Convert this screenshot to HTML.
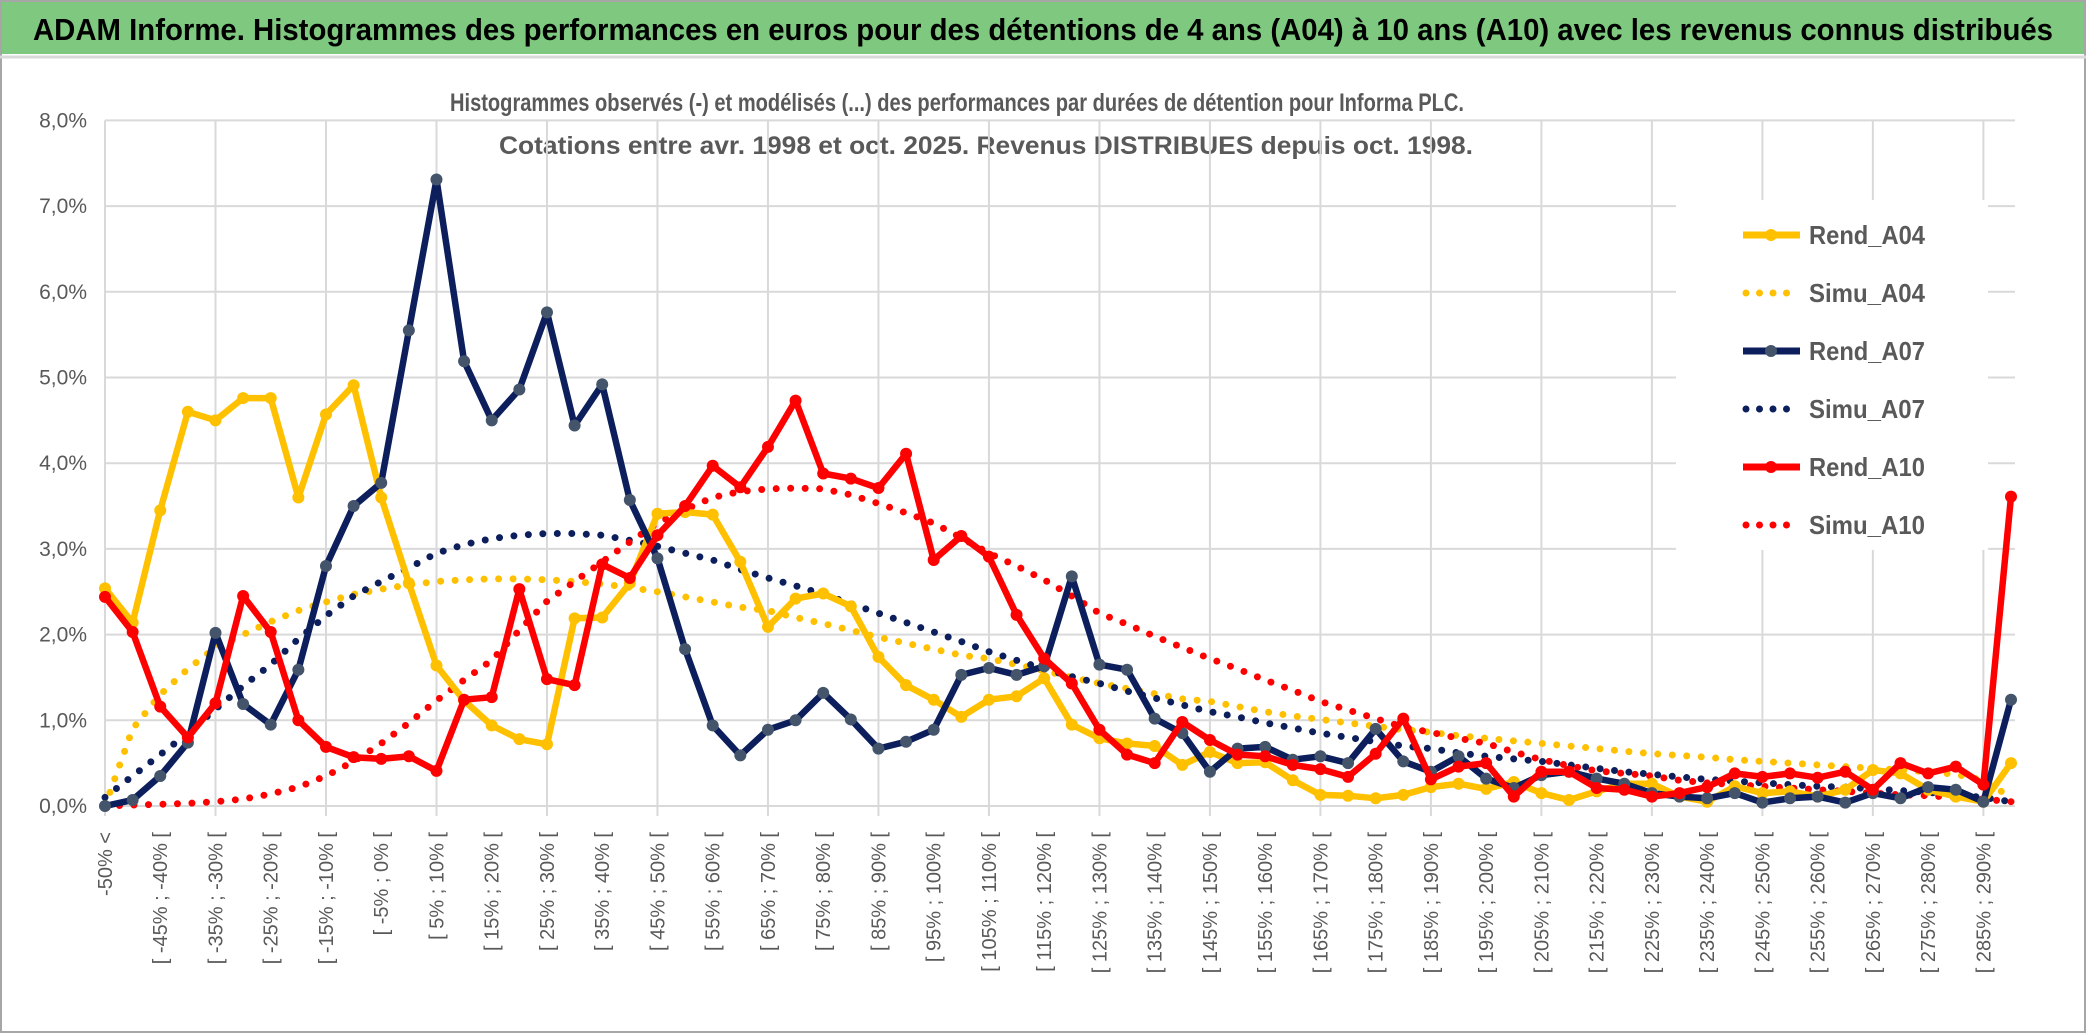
<!DOCTYPE html>
<html><head><meta charset="utf-8">
<style>
html,body{margin:0;padding:0;background:#fff;}
svg{display:block;font-family:"Liberation Sans",sans-serif;}
</style></head>
<body>
<svg id="chart" width="2086" height="1033" viewBox="0 0 2086 1033" xmlns="http://www.w3.org/2000/svg">
<rect x="0" y="0" width="2086" height="1033" fill="#fff"/>
<rect x="1" y="1" width="2084" height="1031" fill="none" stroke="#a6a6a6" stroke-width="2"/>
<rect x="2" y="2" width="2082" height="52" fill="#7ec87f"/>
<line x1="0" y1="57" x2="2086" y2="57" stroke="#d9d9d9" stroke-width="3"/>
<text x="33" y="40" font-size="31" font-weight="bold" fill="#000" textLength="2020" lengthAdjust="spacingAndGlyphs">ADAM Informe. Histogrammes des performances en euros pour des détentions de 4 ans (A04) à 10 ans (A10) avec les revenus connus distribués</text>
<text x="450" y="111" font-size="25" font-weight="bold" fill="#595959" textLength="1014" lengthAdjust="spacingAndGlyphs">Histogrammes observés (-) et modélisés (...) des performances par durées de détention pour Informa PLC.</text>
<text x="499" y="154" font-size="25" font-weight="bold" fill="#595959" textLength="974" lengthAdjust="spacingAndGlyphs">Cotations entre avr. 1998 et oct. 2025. Revenus DISTRIBUES depuis oct. 1998.</text>
<g id="grid"></g>
<g id="ylabels"></g>
<g id="xlabels"></g>
<g id="series"></g>
<g id="legend"></g>
</svg>
<script>
const yTicks = ["0,0%","1,0%","2,0%","3,0%","4,0%","5,0%","6,0%","7,0%","8,0%"];
const categories = ["-50% <"];
for (let k = 1; k < 70; k++) { const a = -55 + 5 * k; categories.push("[ " + a + "% ; " + (a + 5) + "% ["); }
const rendA04 = [2.54,2.14,3.45,4.6,4.5,4.76,4.76,3.6,4.57,4.91,3.6,2.6,1.64,1.23,0.94,0.78,0.72,2.19,2.2,2.6,3.41,3.43,3.4,2.85,2.09,2.42,2.48,2.33,1.74,1.41,1.24,1.04,1.24,1.28,1.49,0.95,0.79,0.73,0.7,0.48,0.63,0.5,0.51,0.3,0.13,0.12,0.09,0.13,0.22,0.26,0.2,0.28,0.15,0.07,0.17,0.26,0.26,0.11,0.05,0.23,0.15,0.17,0.11,0.19,0.42,0.38,0.19,0.11,0.05,0.5];
const rendA07 = [0,0.07,0.35,0.74,2.02,1.19,0.95,1.59,2.8,3.5,3.77,5.55,7.31,5.19,4.5,4.86,5.76,4.44,4.92,3.57,2.89,1.83,0.94,0.59,0.89,1.0,1.32,1.01,0.67,0.75,0.89,1.53,1.61,1.53,1.63,2.68,1.65,1.59,1.02,0.85,0.4,0.67,0.69,0.54,0.58,0.5,0.9,0.52,0.4,0.58,0.32,0.21,0.36,0.4,0.32,0.26,0.15,0.11,0.09,0.15,0.04,0.09,0.11,0.04,0.15,0.09,0.22,0.19,0.05,1.24];
const rendA10 = [2.44,2.03,1.16,0.8,1.2,2.45,2.03,1.0,0.69,0.57,0.55,0.58,0.41,1.24,1.27,2.53,1.48,1.41,2.82,2.66,3.16,3.5,3.97,3.72,4.19,4.73,3.88,3.82,3.71,4.11,2.87,3.15,2.91,2.23,1.72,1.43,0.89,0.6,0.5,0.98,0.77,0.6,0.58,0.48,0.43,0.34,0.61,1.02,0.31,0.46,0.5,0.11,0.4,0.4,0.21,0.19,0.11,0.15,0.22,0.38,0.34,0.38,0.33,0.4,0.19,0.5,0.38,0.46,0.25,3.61];
const simuA04 = [0,0.9,1.3,1.6,1.85,2.0,2.15,2.28,2.38,2.47,2.53,2.58,2.62,2.64,2.65,2.65,2.64,2.62,2.59,2.55,2.5,2.44,2.38,2.32,2.28,2.2,2.13,2.05,1.97,1.9,1.83,1.76,1.72,1.65,1.58,1.5,1.43,1.37,1.31,1.25,1.22,1.16,1.1,1.05,1.01,0.97,0.93,0.89,0.86,0.82,0.79,0.76,0.73,0.7,0.67,0.64,0.61,0.59,0.57,0.54,0.52,0.5,0.48,0.46,0.44,0.42,0.4,0.37,0.3,0.1];
const simuA07 = [0.1,0.35,0.6,0.85,1.13,1.4,1.65,1.95,2.22,2.45,2.62,2.78,2.95,3.05,3.12,3.16,3.18,3.18,3.16,3.1,3.03,2.95,2.87,2.76,2.66,2.57,2.47,2.36,2.25,2.14,2.03,1.92,1.8,1.7,1.6,1.51,1.43,1.34,1.26,1.18,1.1,1.04,0.97,0.91,0.85,0.8,0.75,0.7,0.67,0.62,0.58,0.55,0.52,0.48,0.44,0.4,0.37,0.34,0.31,0.29,0.27,0.25,0.23,0.22,0.2,0.18,0.16,0.13,0.1,0.05];
const simuA10 = [0,0.01,0.02,0.03,0.05,0.08,0.14,0.22,0.35,0.52,0.73,0.97,1.23,1.47,1.7,2.05,2.39,2.62,2.85,3.08,3.3,3.46,3.6,3.67,3.7,3.71,3.7,3.63,3.53,3.42,3.3,3.13,2.95,2.8,2.64,2.45,2.25,2.12,1.98,1.85,1.72,1.6,1.47,1.35,1.22,1.12,1.02,0.92,0.86,0.79,0.73,0.63,0.54,0.47,0.41,0.38,0.35,0.3,0.27,0.25,0.23,0.21,0.19,0.17,0.15,0.13,0.12,0.1,0.08,0.05];
const seriesNames = ["Rend_A04","Simu_A04","Rend_A07","Simu_A07","Rend_A10","Simu_A10"];

const NS = "http://www.w3.org/2000/svg";
const X0 = 105, X1 = 2011, Y0 = 806, YPER = 85.7;
const xScale = i => X0 + (X1 - X0) * i / (categories.length - 1);
const yScale = v => Y0 - YPER * v;
function mk(tag, attrs, parent) {
  const e = document.createElementNS(NS, tag);
  for (const k in attrs) e.setAttribute(k, attrs[k]);
  parent.appendChild(e); return e;
}
const grid = document.getElementById("grid");
yTicks.forEach((t, k) => {
  const y = yScale(k);
  const l = mk("line", {x1: X0, y1: y, x2: X1 + 4, y2: y, stroke: "#d9d9d9", "stroke-width": 2}, grid);
  
  
  const tx = mk("text", {x: 87, y: y + 7, "font-size": 21, fill: "#595959", "text-anchor": "end"}, document.getElementById("ylabels"));
  tx.textContent = t;
  
  
});
for (let i = 0; i < categories.length; i += 4) {
  const l = mk("line", {x1: xScale(i), y1: yScale(8), x2: xScale(i), y2: Y0 + 10, stroke: "#d9d9d9", "stroke-width": 2}, grid);
  
  
}
const xl = document.getElementById("xlabels");
for (let i = 0; i < categories.length; i += 2) {
  const x = xScale(i) + 7, y = 832;
  const t = mk("text", {x: x, y: y, "font-size": 20, fill: "#595959", "text-anchor": "end", transform: "rotate(-90 " + x + " " + y + ")"}, xl);
  t.textContent = categories[i];
  
  
}
const sg = document.getElementById("series");
function pathD(vals) { return vals.map((v, i) => (i ? "L" : "M") + xScale(i).toFixed(1) + "," + yScale(v).toFixed(1)).join(" "); }
function dotted(vals, color, name) {
  const p = mk("path", {d: pathD(vals), fill: "none", stroke: color, "stroke-width": 7, "stroke-linecap": "round", "stroke-dasharray": "0 14.5"}, sg);
  
  
}
function solid(vals, color, mcol, name) {
  const g = mk("g", {}, sg);
  
  
  mk("path", {d: pathD(vals), fill: "none", stroke: color, "stroke-width": 6.5, "stroke-linejoin": "round"}, g);
  vals.forEach((v, i) => {
    const c = mk("circle", {cx: xScale(i), cy: yScale(v), r: 6, fill: mcol}, g);
    
    
  });
}
dotted(simuA04, "#ffc000", "simu-a04-line");
dotted(simuA07, "#0c1f5c", "simu-a07-line");
dotted(simuA10, "#ff0000", "simu-a10-line");
solid(rendA04, "#ffc000", "#ffc000", "rend-a04-line");
solid(rendA07, "#0c1f5c", "#44546a", "rend-a07-line");
solid(rendA10, "#ff0000", "#ff0000", "rend-a10-line");

const lg = document.getElementById("legend");
const bg = mk("rect", {x: 1676, y: 200, width: 312, height: 350, fill: "#fff"}, lg);


const lcol = ["#ffc000","#ffc000","#0c1f5c","#0c1f5c","#ff0000","#ff0000"];
const mcol = ["#ffc000","#ffc000","#44546a","#44546a","#ff0000","#ff0000"];
seriesNames.forEach((n, k) => {
  const y = 235 + 58 * k;
  const g = mk("g", {}, lg);
  
  
  if (k % 2 === 0) {
    mk("line", {x1: 1743, y1: y, x2: 1800, y2: y, stroke: lcol[k], "stroke-width": 7}, g);
    mk("circle", {cx: 1771, cy: y, r: 6, fill: mcol[k]}, g);
  } else {
    mk("line", {x1: 1746, y1: y, x2: 1800, y2: y, stroke: lcol[k], "stroke-width": 7, "stroke-linecap": "round", "stroke-dasharray": "0 13.5"}, g);
  }
  const t = mk("text", {x: 1809, y: y + 9, "font-size": 26, "font-weight": "bold", fill: "#595959", textLength: 116, lengthAdjust: "spacingAndGlyphs"}, g);
  t.textContent = n;
});
</script>
</body></html>
